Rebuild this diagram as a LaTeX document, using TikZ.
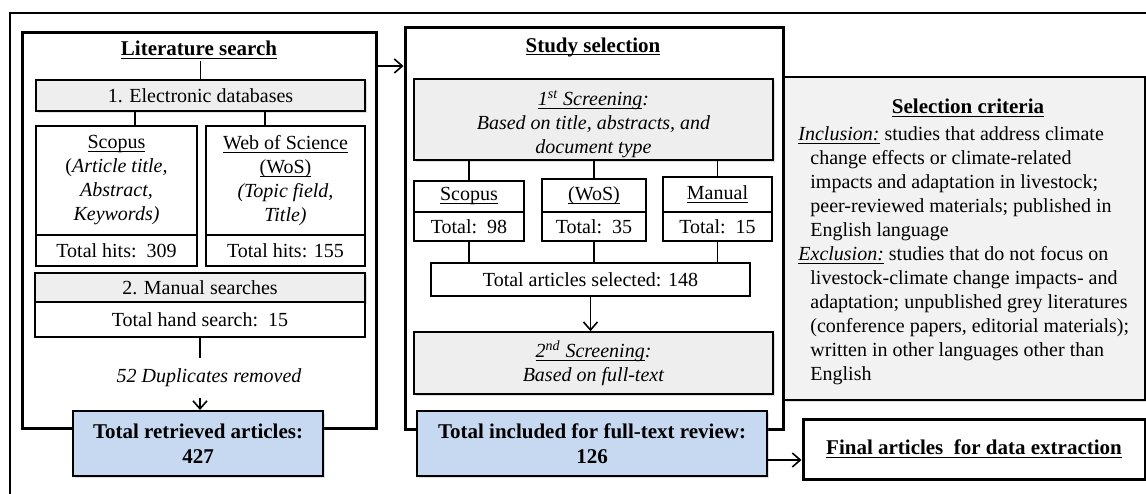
\documentclass[tikz,border=0pt]{standalone}
\usepackage{fontspec}
\setmainfont{Liberation Serif}
\usetikzlibrary{arrows.meta,shadows}

\definecolor{panelgray}{HTML}{EEEEEE}
\definecolor{critgray}{HTML}{F2F2F2}
\definecolor{resultblue}{HTML}{C6D9F1}

% underline drawn at a fixed depth below the baseline
\newsavebox{\ulinebox}
\newcommand{\undr}[1]{\sbox{\ulinebox}{#1}%
  \rlap{\rule[-1.7pt]{\wd\ulinebox}{0.5pt}}\usebox{\ulinebox}}

\tikzset{
  txt/.style={font=\fontsize{10}{12}\selectfont},
  every node/.style={txt},
  % a box given by its corners (x1,y1) and (x2,y2) in picture units
  area/.style n args={4}{at={({(#1+#3)/2},{(#2+#4)/2})},
    minimum width={(#3-#1)*0.5pt}, minimum height={(#4-#2)*0.5pt}},
  heading/.style={font=\fontsize{10.5}{12}\selectfont\bfseries, inner sep=1pt},
  soft/.style={drop shadow={shadow xshift=1.2pt, shadow yshift=-1.2pt, opacity=0.25}},
  frame/.style={draw, line width=1.5pt, fill=white, inner sep=0pt, soft},
  cell/.style={draw, line width=0.8pt, fill=white, inner sep=0pt, align=center},
  shaded/.style={cell, fill=panelgray, soft},
  result/.style={draw, line width=1pt, fill=resultblue, inner sep=0pt, align=center, soft,
                 font=\fontsize{10.5}{12.5}\selectfont\bfseries},
  link/.style={line width=0.8pt},
  flow/.style={link, -{Straight Barb[length=4pt,width=7pt,line width=0.8pt]}},
}

\begin{document}
\begin{tikzpicture}[x=0.5pt,y=-0.5pt]
\useasboundingbox (0,0) rectangle (1146,493);
\clip (0,0) rectangle (1146,493);

% outer frame
\draw[line width=0.7pt] (10,500) -- (10,13) -- (1160,13);

% ---------------- Literature search ----------------
\node[frame, area={22}{32}{376}{428}] (lit) {};
\node[heading] (littitle) at (199,50) {\undr{Literature search}};
\node[shaded, area={36}{80}{365}{111}] (elec) {1. Electronic databases};
\node[cell, area={36}{126}{197}{235}] (scopusdb)
  {\undr{Scopus}\\(\textit{Article title,}\\\textit{Abstract,}\\\textit{Keywords)}};
\node[cell, area={36}{235}{197}{266}] (scopushits) {Total hits:\ \ 309};
\node[cell, area={206}{126}{365}{235}] (wosdb)
  {\undr{Web of Science}\\\undr{(WoS)}\\\textit{(Topic field,}\\\textit{Title)}};
\node[cell, area={206}{235}{365}{266}] (woshits) {Total hits: 155};
\node[shaded, area={35}{273}{365}{302}] (manual) {2. Manual searches};
\node[cell, area={35}{302}{365}{337}] (hand) {Total hand search:\ \ 15};
\node[inner sep=0pt, minimum height=20pt, font=\fontsize{10}{12}\selectfont\itshape]
  (dup) at (209,378) {52 Duplicates removed};
\node[result, area={73}{411}{323}{476}] (retrieved) {Total retrieved articles:\\427};

\coordinate (dbleft) at (135,0);
\coordinate (dbright) at (265,0);
\draw[link] (elec.north |- littitle.south) -- (elec.north);
\draw[link] (elec.south -| dbleft) -- (scopusdb.north -| dbleft);
\draw[link] (elec.south -| dbright) -- (wosdb.north -| dbright);
\draw[link] (hand.south) -- (hand.south |- dup.north);
\draw[flow] (hand.south |- dup.south) -- (hand.south |- retrieved.north);

% ---------------- Study selection ----------------
\node[frame, area={405}{27}{783}{429}] (study) {};
\node[heading] (studytitle) at (593,47) {\undr{Study selection}};
\node[shaded, area={414}{79}{773}{160}] (screen1)
  {\rule{0pt}{12pt}\textit{\undr{1\textsuperscript{st} Screening}:}\\\textit{Based on title, abstracts, and}\\\textit{document type}};
\node[cell, area={414}{181}{524}{212}] (scopussel) {\undr{Scopus}};
\node[cell, area={414}{212}{524}{241}] (scopustot) {Total:\ \ 98};
\node[cell, area={542}{179}{646}{212}] (wossel) {\undr{(WoS)}};
\node[cell, area={542}{212}{646}{241}] (wostot) {Total:\ \ 35};
\node[cell, area={663}{177}{772}{212}] (mansel) {\undr{Manual}};
\node[cell, area={663}{212}{772}{241}] (mantot) {Total:\ \ 15};
\node[cell, area={431}{263}{750}{296}] (selected) {Total articles selected: 148};
\node[shaded, area={414}{332}{773}{394}] (screen2)
  {\textit{\undr{2\textsuperscript{nd} Screening}:}\\\textit{Based on full-text}};
\node[result, area={417}{411}{767}{476}] (included) {Total included for full-text review:\\126};

\draw[link] (screen1.south -| scopussel.north) -- (scopussel.north);
\draw[link] (screen1.south -| wossel.north) -- (wossel.north);
\draw[link] (screen1.south -| mansel.north) -- (mansel.north);
\draw[link] (scopustot.south) -- (scopustot.south |- selected.north);
\draw[link] (wostot.south) -- (wostot.south |- selected.north);
\draw[link] (mantot.south) -- (mantot.south |- selected.north);
\draw[flow] (selected.south) -- (selected.south |- screen2.north);

\coordinate (toprow) at (0,66);
\draw[flow] (lit.east |- toprow) -- (study.west |- toprow);

% ---------------- Selection criteria ----------------
\node[draw, line width=1pt, fill=critgray, inner sep=0pt, soft, area={784}{77}{1145}{400}] (criteria) {};
\node[heading] (crittitle) at (968,108) {\undr{Selection criteria}};
\node[anchor=north west, align=left, inner sep=0pt] (critbody) at (798,126)
  {\textit{\undr{Inclusion:}} studies that address climate\\
   \hspace*{6pt}change effects or climate-related\\
   \hspace*{6pt}impacts and adaptation in livestock;\\
   \hspace*{6pt}peer-reviewed materials; published in\\
   \hspace*{6pt}English language\\
   \textit{\undr{Exclusion:}} studies that do not focus on\\
   \hspace*{6pt}livestock-climate change impacts- and\\
   \hspace*{6pt}adaptation; unpublished grey literatures\\
   \hspace*{6pt}(conference papers, editorial materials);\\
   \hspace*{6pt}written in other languages other than\\
   \hspace*{6pt}English};

% ---------------- Final articles ----------------
\node[frame, area={803}{419}{1145}{479}, font=\fontsize{10.5}{12}\selectfont\bfseries] (final)
  {\undr{Final articles\ \ for data extraction}};
\coordinate (lowrow) at (0,460);
\draw[flow] (included.east |- lowrow) -- (final.west |- lowrow);

\end{tikzpicture}
\end{document}
